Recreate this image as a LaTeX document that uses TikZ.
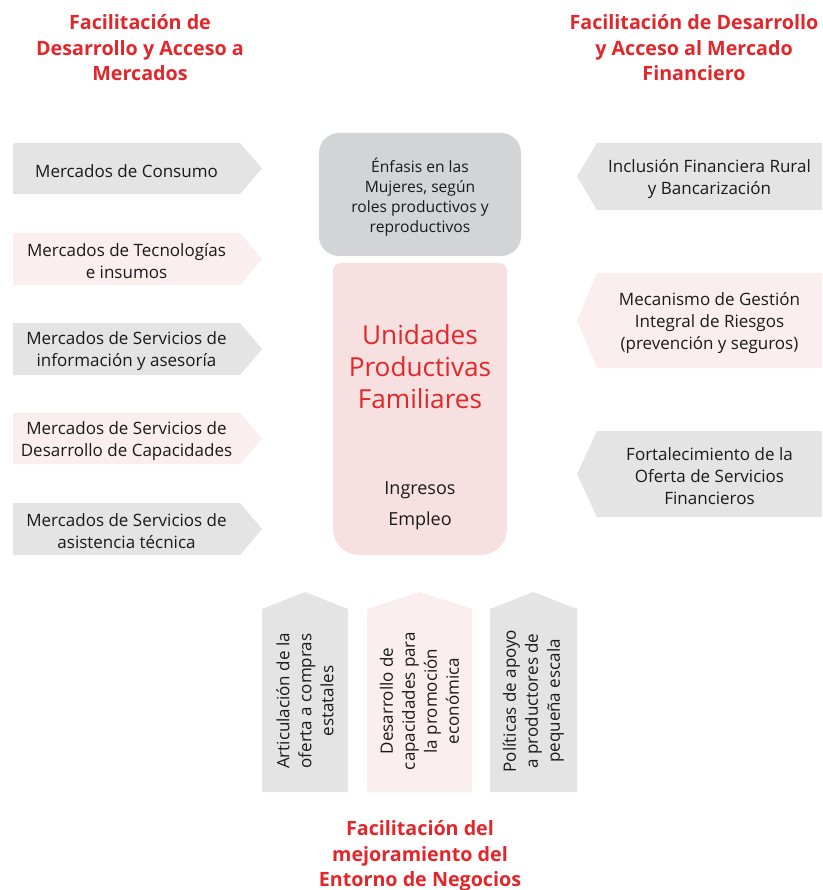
\documentclass[tikz,border=0pt]{standalone}
\usepackage{fontspec}
\setmainfont{Open Sans}
\definecolor{tred}{HTML}{E3262A}
\definecolor{agray}{HTML}{E3E4E3}
\definecolor{apink}{HTML}{FBEEEE}
\definecolor{cpink}{HTML}{F7E0E0}
\definecolor{bgray}{HTML}{D3D4D5}
\definecolor{txt}{HTML}{1A1A1A}
\tikzset{
  title/.style={text=tred,font=\fontsize{19.7}{25.5}\selectfont\bfseries,align=center,inner sep=0pt},
  arrtext/.style={text=txt,font=\fontsize{17}{22}\selectfont,align=center,inner sep=0pt},
  boxtext/.style={text=txt,font=\fontsize{15.6}{20}\selectfont,align=center,inner sep=0pt},
  bigtext/.style={text=tred,font=\fontsize{26.2}{32}\selectfont,align=center,inner sep=0pt},
  midtext/.style={text=txt,font=\fontsize{18}{22}\selectfont,align=center,inner sep=0pt},
}
\newcommand\myLarrow[5]{% name, top, bottom, color, text
  \fill[#4] (13,#2) -- (240,#2) -- (262,{(#2+#3)/2}) -- (240,#3) -- (13,#3) -- cycle;
  \node[arrtext] (#1) at (126.5,{(#2+#3)/2+2.5}) {#5};}
\newcommand\myRarrow[5]{%
  \fill[#4] (822,#2) -- (597,#2) -- (577,{(#2+#3)/2}) -- (597,#3) -- (822,#3) -- cycle;
  \node[arrtext] (#1) at (709.5,{(#2+#3)/2+2.5}) {#5};}
\newcommand\myUarrow[5]{% name, left, right, color, text
  \fill[#4] (#2,792) -- (#2,609) -- ({(#2+#3)/2},592) -- (#3,609) -- (#3,792) -- cycle;
  \node[arrtext,rotate=90] (#1) at ({(#2+#3)/2},701) {#5};}
\begin{document}
\begin{tikzpicture}[x=1pt,y=-1pt]
\useasboundingbox (0,0) rectangle (822,890);
\fill[white] (0,0) rectangle (822,890);
% titles
\node[title] (tl) at (140,48) {Facilitación de\\Desarrollo y Acceso a\\Mercados};
\node[title] (tr) at (694,48) {Facilitación de Desarrollo\\y Acceso al Mercado\\Financiero};
\node[title] (tb) at (420,856) {Facilitación del\\mejoramiento del\\Entorno de Negocios};
% left arrows
\myLarrow{l1}{143}{194}{agray}{Mercados de Consumo}
\myLarrow{l2}{233}{285}{apink}{Mercados de Tecnologías\\e insumos}
\myLarrow{l3}{323}{375}{agray}{Mercados de Servicios de\\información y asesoría}
\myLarrow{l4}{413}{464}{apink}{Mercados de Servicios de\\Desarrollo de Capacidades}
\myLarrow{l5}{503}{555}{agray}{Mercados de Servicios de\\asistencia técnica}
% right arrows
\myRarrow{r1}{143}{210}{agray}{Inclusión Financiera Rural\\y Bancarización}
\myRarrow{r2}{273}{368}{apink}{Mecanismo de Gestión\\Integral de Riesgos\\(prevención y seguros)}
\myRarrow{r3}{431}{517}{agray}{Fortalecimiento de la\\Oferta de Servicios\\Financieros}
% bottom arrows
\myUarrow{b1}{262}{348}{agray}{Articulación de la\\oferta a compras\\estatales}
\myUarrow{b2}{367}{472}{apink}{Desarrollo de\\capacidades para\\la promoción\\económica}
\myUarrow{b3}{490}{577}{agray}{Políticas de apoyo\\a productores de\\pequeña escala}
% center
\fill[cpink, rounded corners=26pt] (333,300) -- (333,555) -- (507,555) -- (507,300);
\fill[cpink, rounded corners=8pt] (333,350) -- (333,263) -- (507,263) -- (507,350) -- cycle;
\fill[bgray, rounded corners=20pt] (319,133) rectangle (521,256);
\node[boxtext] (mujer) at (420,197) {Énfasis en las\\Mujeres, según\\roles productivos y\\reproductivos};
\node[bigtext] (upf) at (420,367) {Unidades\\Productivas\\Familiares};
\node[midtext] (ing) at (420,490) {Ingresos};
\node[midtext] (emp) at (420,521) {Empleo};
\end{tikzpicture}
\end{document}
